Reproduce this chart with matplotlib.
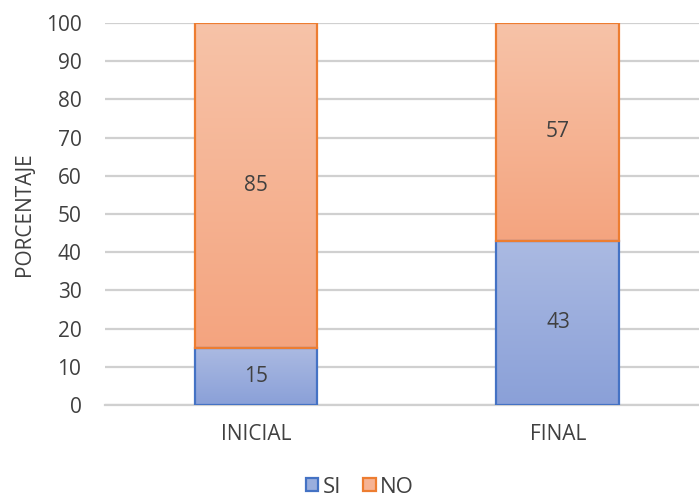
import numpy as np
import matplotlib.pyplot as plt
from matplotlib.patches import Patch
from matplotlib.colors import LinearSegmentedColormap

plt.rcParams['font.family'] = ['Open Sans', 'DejaVu Sans']

# datos de la encuesta
etapas = ['INICIAL', 'FINAL']
si = [15, 43]
no = [85, 57]

txt = '#404040'
fig = plt.figure(figsize=(6.99, 4.97), dpi=100)
ax = fig.add_axes([0.1502, 0.1851, 0.864, 0.7686])

x = np.arange(len(etapas))
ancho = 0.407

# degradados de relleno (claro arriba, oscuro abajo)
cm_si = LinearSegmentedColormap.from_list('si', ['#8aa0d8', '#abbae2'])
cm_no = LinearSegmentedColormap.from_list('no', ['#f4a47f', '#f7c3a8'])
grad = np.linspace(0, 1, 256).reshape(-1, 1)

def barras(vals, base, cmap, borde, nombre):
    bars = ax.bar(x, vals, ancho, bottom=base, facecolor='none',
                  edgecolor=borde, linewidth=1.6, zorder=4, label=nombre)
    for b in bars:
        x0, y0 = b.get_x(), b.get_y()
        im = ax.imshow(grad, cmap=cmap, origin='lower', aspect='auto',
                       extent=[x0, x0 + b.get_width(), y0, y0 + b.get_height()],
                       zorder=3)
        im.set_clip_path(b)
        ax.text(x0 + b.get_width() / 2, y0 + b.get_height() / 2,
                f'{b.get_height():g}', ha='center', va='center',
                fontsize=15, color=txt, zorder=5)
    return bars

barras(si, 0, cm_si, '#4472c4', 'SI')
barras(no, si, cm_no, '#ed7d31', 'NO')

ax.set_xlim(-0.5, 1.5)
ax.set_ylim(0, 100)
ax.set_yticks(range(0, 101, 10))
ax.set_xticks(x)
ax.set_xticklabels(etapas)
ax.yaxis.grid(True, color='#d0d0d0', linewidth=1.6, zorder=0)
ax.set_axisbelow(True)
for s in ['top', 'right', 'left']:
    ax.spines[s].set_visible(False)
ax.spines['bottom'].set_color('#d0d0d0')
ax.spines['bottom'].set_linewidth(1.6)
ax.tick_params(axis='both', length=0, labelsize=15, colors=txt)
ax.tick_params(axis='y', pad=17)
ax.tick_params(axis='x', pad=14)
ax.set_ylabel('PORCENTAJE', fontsize=15, color=txt, labelpad=8)

handles = [Patch(facecolor='#9aaedd', edgecolor='#4472c4', linewidth=1.6, label='SI'),
           Patch(facecolor='#f6b394', edgecolor='#ed7d31', linewidth=1.6, label='NO')]
fig.legend(handles=handles, loc='center', bbox_to_anchor=(0.515, 0.02),
           ncol=2, frameon=False, fontsize=16, labelcolor=txt,
           handlelength=0.55, handleheight=0.55, handletextpad=0.2,
           columnspacing=1.0)

fig.savefig('out.png', dpi=100)
